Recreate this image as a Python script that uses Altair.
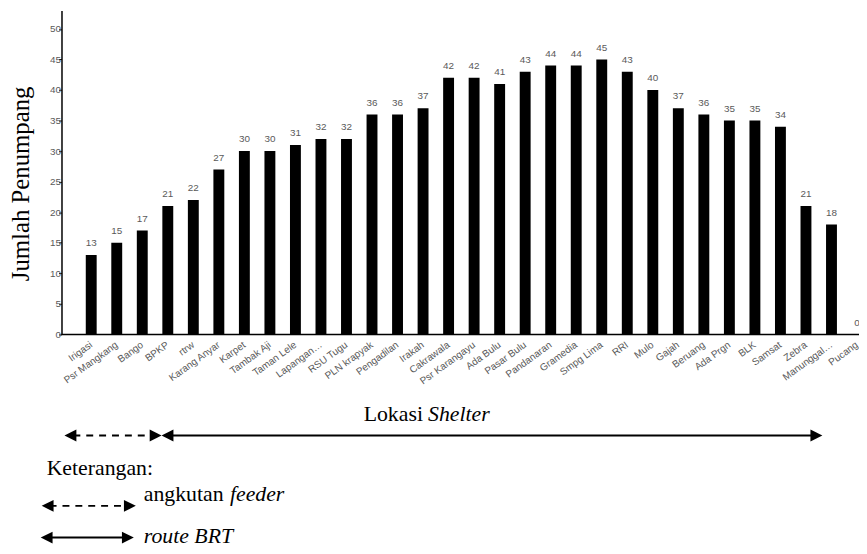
import altair as alt
import pandas as pd

shelters = ["Irigasi", "Psr Mangkang", "Bango", "BPKP", "rtrw", "Karang Anyar",
            "Karpet", "Tambak Aji", "Taman Lele", "Lapangan…", "RSU Tugu",
            "PLN krapyak", "Pengadilan", "Irakah", "Cakrawala", "Psr Karangayu",
            "Ada Bulu", "Pasar Bulu", "Pandanaran", "Gramedia", "Smpg Lima", "RRI",
            "Mulo", "Gajah", "Beruang", "Ada Prgn", "BLK", "Samsat", "Zebra",
            "Manunggal…", "Pucang"]
passengers = [13, 15, 17, 21, 22, 27, 30, 30, 31, 32, 32, 36, 36, 37, 42, 42, 41,
              43, 44, 44, 45, 43, 40, 37, 36, 35, 35, 34, 21, 18, 0]
y_ticks = [0, 5, 10, 15, 20, 25, 30, 35, 40, 45, 50]

df = pd.DataFrame({"shelter": shelters, "jumlah": passengers})
one = pd.DataFrame({"k": [0]})

W, H = 805, 327
GRAY = "#595959"
SERIF = "Liberation Serif"
SANS = "Liberation Sans"

x_enc = alt.X(
    "shelter:N", sort=None, title=None,
    scale=alt.Scale(range=[24.5, 808.5], paddingInner=0.573, paddingOuter=0),
    axis=alt.Axis(labelAngle=-36, labelAlign="right", labelBaseline="middle",
                  labelPadding=9, ticks=False, domain=False, labelFont=SANS,
                  labelFontSize=10, labelColor=GRAY, labelOverlap=False),
)
y_enc = alt.Y(
    "jumlah:Q",
    scale=alt.Scale(domain=[0, 53], nice=False, zero=True),
    axis=alt.Axis(values=y_ticks, title=None, grid=False, tickSize=3,
                  labelPadding=-2, labelFontSize=10, labelColor=GRAY,
                  labelFont=SANS, domainColor="black", tickColor="black",
                  domainWidth=1.5),
)

base = alt.Chart(df)
bars = base.mark_bar(color="black").encode(x=x_enc, y=y_enc)
vals = base.mark_text(dy=-9, baseline="alphabetic", font=SANS, fontSize=10,
                      color=GRAY).encode(x=x_enc, y=y_enc, text="jumlah:Q")

layers = [bars, vals]

# x-axis baseline
layers.append(alt.Chart(one).mark_rule(color="black", strokeWidth=1.5).encode(
    x=alt.value(0), x2=alt.value(W + 10), y=alt.value(H)))


def hline(x1, x2, y, dashed=False):
    kw = dict(color="black", strokeWidth=2)
    if dashed:
        kw["strokeDash"] = [7, 6]
    return alt.Chart(one).mark_rule(**kw).encode(
        x=alt.value(x1), x2=alt.value(x2), y=alt.value(y))


RIGHT = "M1,0L-1,-1L-1,1Z"
LEFT = "M-1,0L1,-1L1,1Z"
HS = 12


def head(tip, y, direction):
    if direction == "right":
        cx, shape = tip - HS / 2, RIGHT
    else:
        cx, shape = tip + HS / 2, LEFT
    return alt.Chart(one).mark_point(shape=shape, filled=True, color="black",
                                     opacity=1, size=HS * HS).encode(
        x=alt.value(cx), y=alt.value(y))


def text(t, xx, yy, size=22, style="normal", angle=0, align="left",
         baseline="alphabetic"):
    return alt.Chart(one).mark_text(text=t, font=SERIF, fontSize=size,
                                    fontStyle=style, angle=angle, align=align,
                                    baseline=baseline, color="black").encode(
        x=alt.value(xx), y=alt.value(yy))


# top arrows
ty = 429
layers += [hline(12, 92, ty, dashed=True), head(3, ty, "left"), head(101, ty, "right"),
           hline(110, 760, ty), head(101, ty, "left"), head(768, ty, "right")]
# legend arrows
layers += [hline(-12, 66, 500, dashed=True), head(-20, 500, "left"), head(75, 500, "right"),
           hline(-13, 65, 532), head(-21, 532, "left"), head(73, 532, "right")]

# texts
layers += [
    text("Jumlah Penumpang", -41, 175, size=25, angle=270, align="center",
         baseline="middle"),
    text("Lokasi", 305, 414),
    text("Shelter", 370, 414, style="italic"),
    text("Keterangan:", -15, 469),
    text("angkutan", 83, 495),
    text("feeder", 170, 495, style="italic"),
    text("route BRT", 83, 537, style="italic"),
]

chart = alt.layer(*layers).properties(
    width=W, height=H,
    autosize=alt.AutoSizeParams(type="none"),
    padding={"left": 54, "top": 0, "right": 0, "bottom": 216},
    background="white",
).configure_view(stroke=None)

chart.save("out.html", embed_options={"renderer": "svg", "actions": False})
